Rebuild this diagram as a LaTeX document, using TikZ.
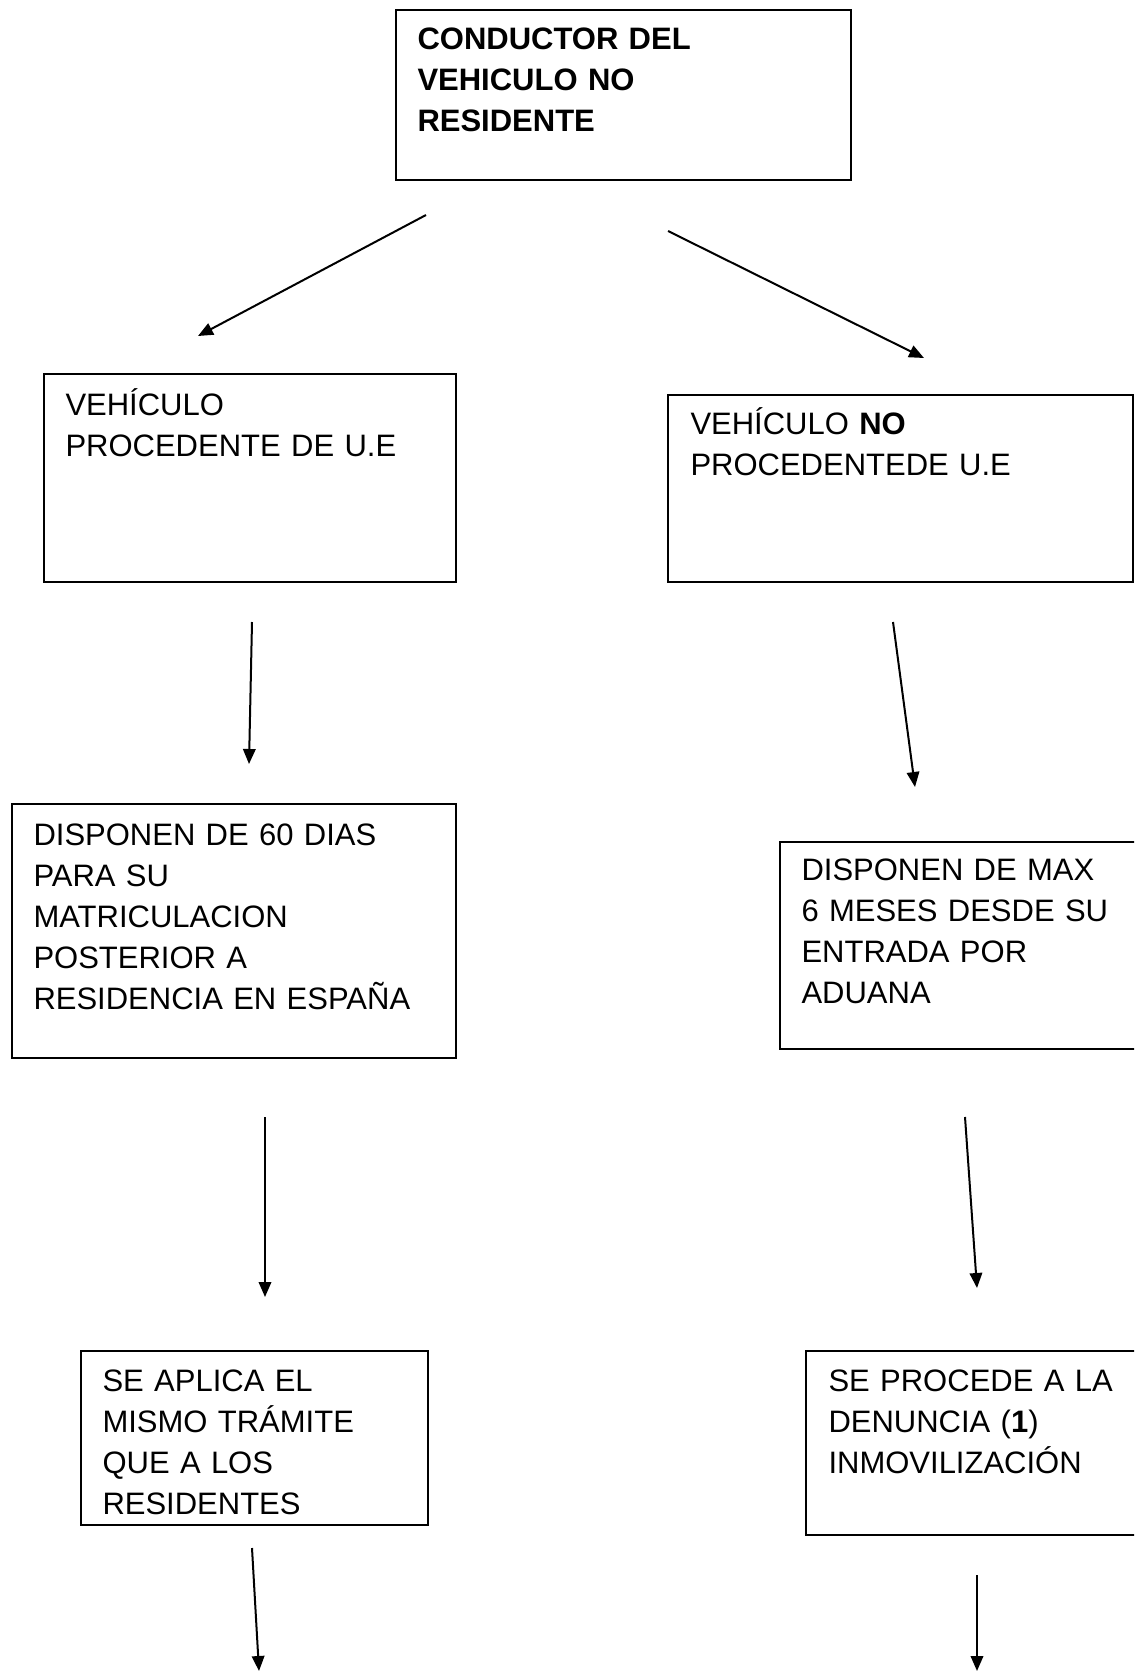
\documentclass[tikz,border=0pt]{standalone}
\usepackage{fontspec}
\setmainfont{Liberation Sans}
\usetikzlibrary{arrows.meta}

\begin{document}
\begin{tikzpicture}[x=0.4pt,y=-0.4pt,
  caja/.style={draw, line width=0.8pt, anchor=north west, inner sep=0pt},
  texto/.style={anchor=base west, align=left, inner sep=0pt, text width=170pt,
    font=\fontsize{12.4}{16.4}\selectfont},
  flecha/.style={line width=0.8pt, -{Triangle[length=6pt,width=5pt]}}]
\clip (0,0) rectangle (1134,1672); %page size in px

% cajas
\node[caja, minimum width=182pt, minimum height=68pt] (conductor) at (395,9) {};
\node[caja, minimum width=164.8pt, minimum height=83.2pt] (ue) at (43,373) {};
\node[caja, minimum width=186pt, minimum height=74.8pt] (noue) at (667,394) {};
\node[caja, minimum width=177.6pt, minimum height=101.6pt] (dias) at (11,803) {};
\node[caja, minimum width=160pt, minimum height=82.8pt] (meses) at (779,841) {};
\node[caja, minimum width=138.8pt, minimum height=69.6pt] (tramite) at (80,1350) {};
\node[caja, minimum width=160pt, minimum height=73.6pt] (denuncia) at (805,1350) {};

% textos
\node[texto] (conductor-t) at ([shift={(22,41)}]conductor.north west)
  {\bfseries CONDUCTOR DEL\\VEHICULO NO\\RESIDENTE};
\node[texto] (ue-t) at ([shift={(22,42)}]ue.north west)
  {VEHÍCULO\\PROCEDENTE DE U.E};
\node[texto] (noue-t) at ([shift={(23,40)}]noue.north west)
  {VEHÍCULO \textbf{NO}\\PROCEDENTEDE U.E};
\node[texto] (dias-t) at ([shift={(22,42)}]dias.north west)
  {DISPONEN DE 60 DIAS\\PARA SU\\MATRICULACION\\POSTERIOR A\\RESIDENCIA EN ESPAÑA};
\node[texto] (meses-t) at ([shift={(22,39)}]meses.north west)
  {DISPONEN DE MAX\\6 MESES DESDE SU\\ENTRADA POR\\ADUANA};
\node[texto] (tramite-t) at ([shift={(22,41)}]tramite.north west)
  {SE APLICA EL\\MISMO TRÁMITE\\QUE A LOS\\RESIDENTES};
\node[texto] (denuncia-t) at ([shift={(23,41)}]denuncia.north west)
  {SE PROCEDE A LA\\DENUNCIA (\textbf{1})\\INMOVILIZACIÓN};

% extremos de las flechas
\coordinate (c1) at (426,215); \coordinate (u1) at (198,336);
\coordinate (c2) at (668,231); \coordinate (n1) at (924,358);
\coordinate (u2) at (252,622); \coordinate (d1) at (249,764);
\coordinate (n2) at (893,622); \coordinate (m1) at (915,787);
\coordinate (d2) at (265,1117); \coordinate (t1) at (265,1297);
\coordinate (m2) at (965,1117); \coordinate (p1) at (977,1288);
\coordinate (t2) at (252,1548); \coordinate (t3) at (259,1671);
\coordinate (p2) at (977,1575); \coordinate (p3) at (977,1671);

\draw[flecha] (c1)--(u1);
\draw[flecha] (c2)--(n1);
\draw[flecha] (u2)--(d1);
\draw[flecha] (n2)--(m1);
\draw[flecha] (d2)--(t1);
\draw[flecha] (m2)--(p1);
\draw[flecha] (t2)--(t3);
\draw[flecha] (p2)--(p3);
\end{tikzpicture}
\end{document}
